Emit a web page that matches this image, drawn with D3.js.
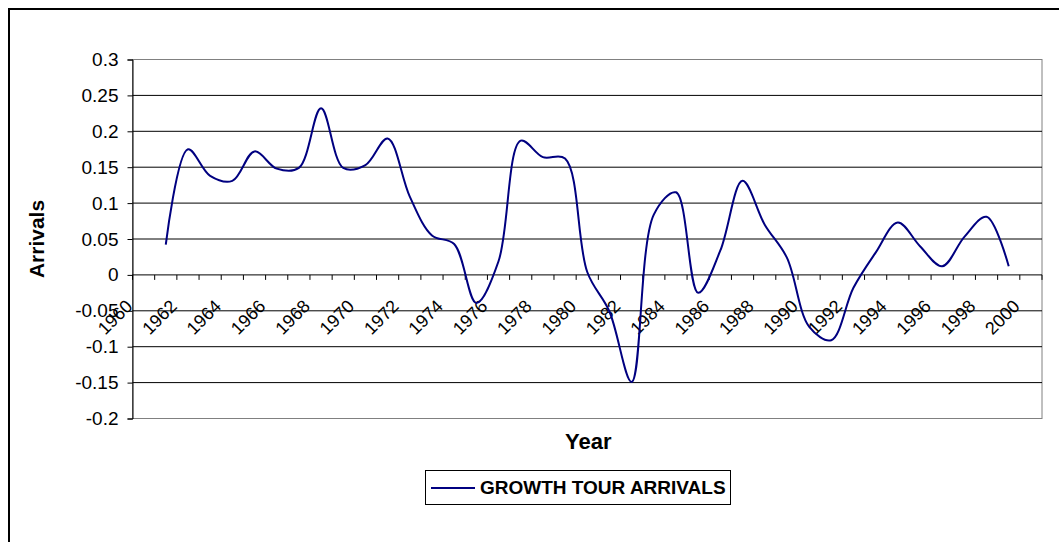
<!DOCTYPE html>
<html>
<head>
<meta charset="utf-8">
<script src="https://cdn.jsdelivr.net/npm/d3@7"></script>
<style>
  html, body { margin: 0; padding: 0; background: #fff; }
  svg { display: block; }
  text { font-family: "Liberation Sans", Arial, sans-serif; fill: #000; }
</style>
</head>
<body>
<svg id="chart" width="1059" height="542"></svg>
<script>
// Annual growth of tourist arrivals
const years = [1961, 1962, 1963, 1964, 1965, 1966, 1967, 1968, 1969, 1970,
               1971, 1972, 1973, 1974, 1975, 1976, 1977, 1978, 1979, 1980,
               1981, 1982, 1983, 1984, 1985, 1986, 1987, 1988, 1989, 1990,
               1991, 1992, 1993, 1994, 1995, 1996, 1997, 1998, 1999];
const growth = [0.042, 0.175, 0.138, 0.131, 0.172, 0.148, 0.149, 0.232, 0.149, 0.153,
                0.190, 0.109, 0.055, 0.043, -0.039, 0.019, 0.187, 0.164, 0.162, 0.004,
                -0.051, -0.149, 0.084, 0.115, -0.025, 0.034, 0.131, 0.070, 0.024, -0.072,
                -0.091, -0.018, 0.031, 0.073, 0.040, 0.012, 0.053, 0.081, 0.012];

// Category axis: one slot per year, labelled every second year
const categories = d3.range(1960, 2001);
const yearLabels = [1960, 1962, 1964, 1966, 1968, 1970, 1972, 1974, 1976, 1978, 1980,
                    1982, 1984, 1986, 1988, 1990, 1992, 1994, 1996, 1998, 2000];
const yTicks = [-0.2, -0.15, -0.1, -0.05, 0, 0.05, 0.1, 0.15, 0.2, 0.25, 0.3];
const seriesName = "GROWTH TOUR ARRIVALS";

const svg = d3.select("#chart");
const plot = { left: 132.5, right: 1042, top: 59.5, bottom: 418.5 };

const x = d3.scaleBand().domain(categories).range([plot.left, plot.right]).paddingInner(0).paddingOuter(0);
const y = d3.scaleLinear().domain([-0.2, 0.3]).range([plot.bottom, plot.top]);
const cx = yr => x(yr) + x.bandwidth() / 2;

// Outer chart frame
svg.append("rect")
  .attr("x", 9).attr("y", 9).attr("width", 1200).attr("height", 700)
  .attr("fill", "#fff").attr("stroke", "#000").attr("stroke-width", 2);

// Plot area border
svg.append("rect")
  .attr("x", plot.left).attr("y", plot.top)
  .attr("width", plot.right - plot.left).attr("height", plot.bottom - plot.top)
  .attr("fill", "#fff").attr("stroke", "#808080").attr("stroke-width", 1);

// Horizontal gridlines
svg.append("g").selectAll("line")
  .data(yTicks.filter(v => v !== 0.3 && v !== -0.2 && v !== 0))
  .join("line")
  .attr("x1", plot.left).attr("x2", plot.right)
  .attr("y1", d => y(d)).attr("y2", d => y(d))
  .attr("stroke", "#000").attr("stroke-width", 1);

// Value axis
const yAxis = d3.axisLeft(y).tickValues(yTicks).tickSize(5).tickPadding(9)
  .tickFormat(d => String(+d.toFixed(2)));
const gy = svg.append("g").attr("transform", `translate(${plot.left},0)`).call(yAxis);
gy.select(".domain").attr("stroke", "#000");
gy.selectAll(".tick line").attr("stroke", "#000");
gy.selectAll(".tick text")
  .style("font-family", "'Liberation Sans', Arial, sans-serif")
  .style("font-size", "19px").attr("fill", "#000");

// Category axis along zero, tick marks between categories
const gx = svg.append("g");
gx.append("line")
  .attr("x1", plot.left).attr("x2", plot.right)
  .attr("y1", y(0)).attr("y2", y(0))
  .attr("stroke", "#000").attr("stroke-width", 1);
const boundaries = categories.map(c => x(c)).concat([plot.right]);
gx.selectAll("line.tick")
  .data(boundaries)
  .join("line").attr("class", "tick")
  .attr("x1", d => d).attr("x2", d => d)
  .attr("y1", y(0)).attr("y2", y(0) + 5)
  .attr("stroke", "#000").attr("stroke-width", 1);
gx.selectAll("text")
  .data(yearLabels)
  .join("text")
  .attr("transform", d => `translate(${cx(d) - 10},${y(0) + 32.5}) rotate(-45)`)
  .attr("text-anchor", "end")
  .style("font-size", "18px")
  .text(d => d);

// Series line, smoothed
const line = d3.line()
  .x((d, i) => cx(years[i]))
  .y(d => y(d))
  .curve(d3.curveCatmullRom.alpha(0.5));
svg.append("path")
  .datum(growth)
  .attr("d", line)
  .attr("fill", "none")
  .attr("stroke", "#000080")
  .attr("stroke-width", 2)
  .attr("stroke-linejoin", "round");

// Axis titles
svg.append("text")
  .attr("x", (plot.left + plot.right) / 2 + 1).attr("y", 449)
  .attr("text-anchor", "middle")
  .style("font-size", "22px").style("font-weight", "bold")
  .text("Year");
svg.append("text")
  .attr("transform", `translate(44,${(plot.top + plot.bottom) / 2}) rotate(-90)`)
  .attr("text-anchor", "middle")
  .style("font-size", "21px").style("font-weight", "bold")
  .text("Arrivals");

// Legend
const lg = svg.append("g");
lg.append("rect")
  .attr("x", 425.5).attr("y", 470.5).attr("width", 305).attr("height", 34)
  .attr("fill", "#fff").attr("stroke", "#000").attr("stroke-width", 1);
lg.append("line")
  .attr("x1", 431).attr("x2", 475).attr("y1", 488).attr("y2", 488)
  .attr("stroke", "#000080").attr("stroke-width", 2);
lg.append("text")
  .attr("x", 480).attr("y", 494)
  .style("font-size", "19px").style("font-weight", "bold")
  .text(seriesName);
</script>
</body>
</html>
